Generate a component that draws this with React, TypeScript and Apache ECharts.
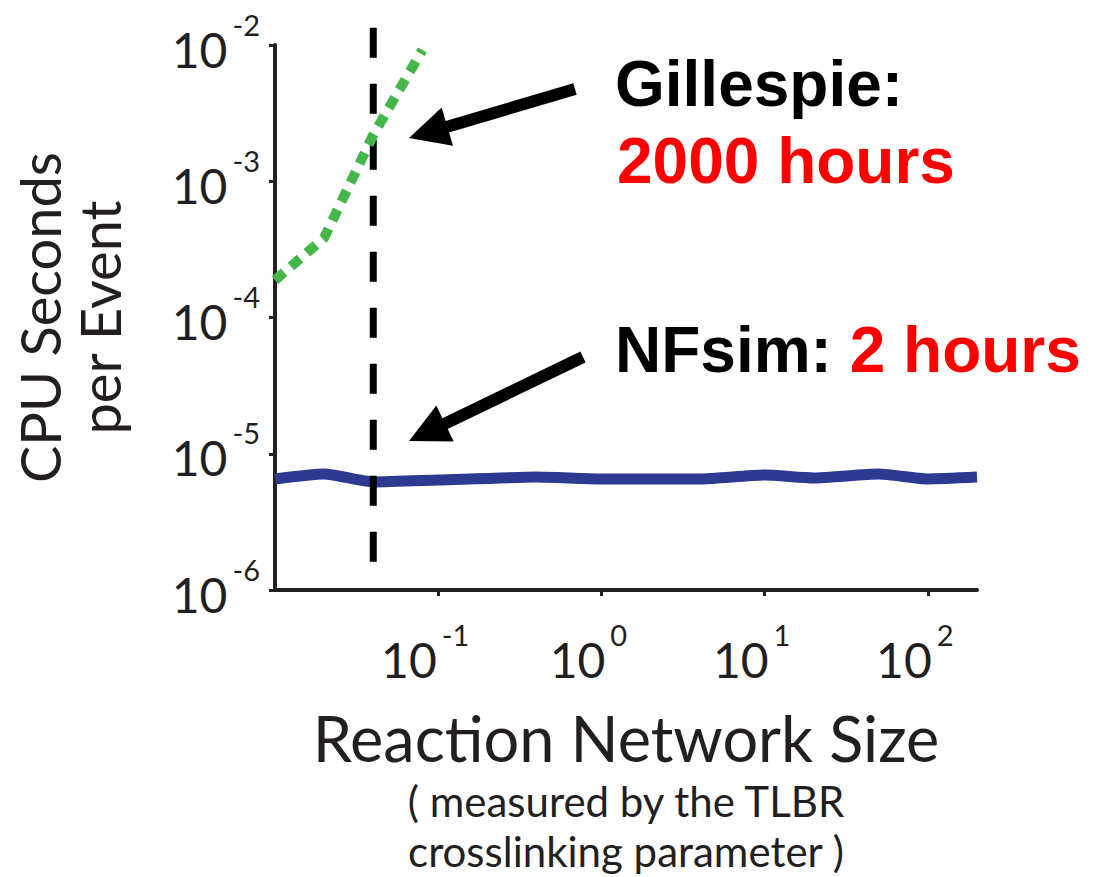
import React, { useEffect, useRef } from "react";
import * as echarts from "echarts";

// ---- data ----
const gillespieX = [0.01, 0.02, 0.04, 0.08];
const gillespieY = [1.88e-4, 3.84e-4, 2.19e-3, 9.2e-3];

const nfsimX = [0.01, 0.02, 0.04, 0.1, 0.4, 1, 4, 10, 20, 50, 100, 200];
const nfsimY = [6.53e-6, 7.1e-6, 6.21e-6, 6.41e-6, 6.74e-6, 6.53e-6, 6.53e-6, 6.98e-6, 6.64e-6, 7.1e-6, 6.53e-6, 6.74e-6];

const thresholdX = 0.04;
const thresholdYRange = [1.61e-6, 1.4e-2];

const xRange = [0.01, 200];
const yRange = [1e-6, 1e-2];
const xTickExponents = [-1, 0, 1, 2];
const yTickExponents = [-6, -5, -4, -3, -2];

const yTitle = "CPU Seconds\nper Event";
const xTitle = "Reaction Network Size";
const xSubtitle = ["( measured by the TLBR", "crosslinking parameter )"];
const gillespieLabel = ["Gillespie:", "2000 hours"];
const nfsimLabel = ["NFsim: ", "2 hours"];

const FONT = 'Lato, "Open Sans", sans-serif';
const BOLD = '"Liberation Sans", Arial, sans-serif';
const INK = "#231f20";

function arrow(tail: number[], tip: number[], shaftW: number, headL: number, headW: number) {
  const dx = tip[0] - tail[0];
  const dy = tip[1] - tail[1];
  const len = Math.hypot(dx, dy);
  const ux = dx / len, uy = dy / len;
  const nx = -uy, ny = ux;
  const bx = tip[0] - ux * headL, by = tip[1] - uy * headL;
  const pts = [
    [tail[0] + nx * shaftW / 2, tail[1] + ny * shaftW / 2],
    [bx + nx * shaftW / 2, by + ny * shaftW / 2],
    [bx + nx * headW / 2, by + ny * headW / 2],
    [tip[0], tip[1]],
    [bx - nx * headW / 2, by - ny * headW / 2],
    [bx - nx * shaftW / 2, by - ny * shaftW / 2],
    [tail[0] - nx * shaftW / 2, tail[1] - ny * shaftW / 2],
  ];
  return { type: "polygon", shape: { points: pts }, style: { fill: "#000" }, silent: true };
}

const expLabel = (tickExps: number[]) => (v: number) => {
  const e = Math.round(Math.log10(v));
  if (!tickExps.includes(e)) return "";
  return `{b|10}{e|${e}}`;
};

const labelRich = {
  b: { fontFamily: FONT, fontSize: 48, color: INK, padding: [8, 0, 0, 0] },
  e: { fontFamily: FONT, fontSize: 29, color: INK, padding: [0, 0, 42, 5] },
};

export default function App() {
  const ref = useRef<HTMLDivElement>(null);
  useEffect(() => {
    if (!ref.current) return;
    const chart = echarts.init(ref.current, undefined, { renderer: "svg" });
    const option = {
      animation: false,
      backgroundColor: "#ffffff",
      grid: { left: 275, right: 125, top: 45, bottom: 287, containLabel: false, outerBoundsMode: "none" },
      xAxis: {
        type: "log",
        logBase: 10,
        min: xRange[0],
        max: xRange[1],
        name: `{a|${xTitle}}\n{s|${xSubtitle[0]}}\n{s|${xSubtitle[1]}}`,
        nameLocation: "middle",
        nameGap: 108,
        nameTextStyle: {
          rich: {
            a: { fontFamily: FONT, fontSize: 63, lineHeight: 78, color: INK },
            s: { fontFamily: FONT, fontSize: 42, lineHeight: 50, color: INK },
          },
        },
        axisLine: { show: true, lineStyle: { color: INK, width: 4 } },
        axisTick: { show: true, inside: false, length: 6, lineStyle: { color: INK, width: 3 } },
        axisLabel: {
          formatter: expLabel(xTickExponents),
          rich: labelRich,
          margin: 30,
          showMinLabel: false,
          showMaxLabel: false,
          padding: [0, 26, 0, 0],
        },
        splitLine: { show: false },
      },
      yAxis: {
        type: "log",
        logBase: 10,
        min: yRange[0],
        max: yRange[1],
        name: yTitle,
        nameLocation: "middle",
        nameRotate: 90,
        nameGap: 146,
        nameTextStyle: { fontFamily: FONT, fontSize: 56, lineHeight: 60, color: INK },
        axisLine: { show: true, lineStyle: { color: INK, width: 4 } },
        axisTick: { show: true, inside: false, length: 6, lineStyle: { color: INK, width: 3 } },
        axisLabel: {
          formatter: expLabel(yTickExponents),
          rich: labelRich,
          margin: 15,
        },
        splitLine: { show: false },
      },
      series: [
        {
          name: "NFsim",
          type: "line",
          data: nfsimX.map((x, i) => [x, nfsimY[i]]),
          symbol: "none",
          smooth: 0.2,
          lineStyle: { color: "#2c3a92", width: 11 },
          z: 3,
        },
        {
          name: "Threshold",
          type: "line",
          data: [[thresholdX, thresholdYRange[0]], [thresholdX, thresholdYRange[1]]],
          symbol: "none",
          clip: false,
          lineStyle: { color: "#000000", width: 7, type: [30, 26], cap: "butt" },
          z: 4,
        },
        {
          name: "Gillespie",
          type: "line",
          data: gillespieX.map((x, i) => [x, gillespieY[i]]),
          symbol: "none",
          clip: false,
          lineStyle: { color: "#45b649", width: 10, type: [12, 9], cap: "butt" },
          z: 5,
        },
      ],
      graphic: [
        {
          type: "text",
          x: 615,
          y: 84,
          silent: true,
          style: { text: gillespieLabel[0], fill: "#000", font: `bold 64px ${BOLD}`, align: "left", verticalAlign: "middle" },
        },
        {
          type: "text",
          x: 617,
          y: 161,
          silent: true,
          style: { text: gillespieLabel[1], fill: "#ff0000", font: `bold 64px ${BOLD}`, align: "left", verticalAlign: "middle" },
        },
        {
          type: "text",
          x: 615,
          y: 350,
          silent: true,
          style: {
            text: `{k|${nfsimLabel[0]}}{r|${nfsimLabel[1]}}`,
            align: "left",
            verticalAlign: "middle",
            rich: {
              k: { fill: "#000", fontFamily: BOLD, fontWeight: "bold", fontSize: 64 },
              r: { fill: "#ff0000", fontFamily: BOLD, fontWeight: "bold", fontSize: 64 },
            },
          },
        },
        arrow([575, 89], [409, 138], 12, 40, 40),
        arrow([583, 357], [409, 441], 12, 40, 40),
      ],
    };
    chart.setOption(option as any);
    return () => chart.dispose();
  }, []);
  return (
    <div
      ref={ref}
      style={{ position: "absolute", left: 0, top: 0, width: 1102, height: 877, background: "#fff" }}
    />
  );
}
